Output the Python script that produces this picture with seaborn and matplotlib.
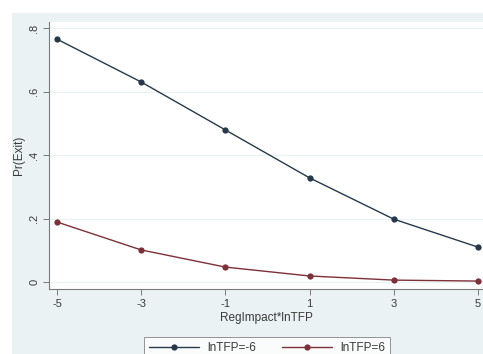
import matplotlib
matplotlib.use("Agg")
import matplotlib.pyplot as plt
import matplotlib.patches as mpatches
import seaborn as sns
import numpy as np
import pandas as pd

# data
reg_impact = [-5, -3, -1, 1, 3, 5]
pr_low = [0.765, 0.630, 0.479, 0.328, 0.198, 0.110]   # lnTFP=-6
pr_high = [0.189, 0.101, 0.047, 0.019, 0.006, 0.003]  # lnTFP=6
series_names = ["lnTFP=-6", "lnTFP=6"]
y_ticks = [0, 0.2, 0.4, 0.6, 0.8]
y_tick_labels = ["0", ".2", ".4", ".6", ".8"]

df = pd.DataFrame({
    "RegImpact*lnTFP": reg_impact * 2,
    "Pr(Exit)": pr_low + pr_high,
    "series": [series_names[0]] * len(reg_impact) + [series_names[1]] * len(reg_impact),
})

sns.set_style("white")
plt.rcParams["font.family"] = ["Liberation Sans", "DejaVu Sans"]

bg = "#eaf2f3"
txt = "#3a3a3a"
fig = plt.figure(figsize=(4.83, 3.54), dpi=100)
fig.patch.set_facecolor("white")
fig.patches.append(mpatches.Rectangle((12 / 483, 0), 471 / 483, 341 / 354,
                                      transform=fig.transFigure, facecolor=bg,
                                      edgecolor="none", zorder=-10))

ax = fig.add_axes([49 / 483, 65 / 354, 434 / 483, 267 / 354])
ax.set_facecolor("white")

palette = {"lnTFP=-6": "#26394a", "lnTFP=6": "#7d3038"}
sns.lineplot(data=df, x="RegImpact*lnTFP", y="Pr(Exit)", hue="series",
             palette=palette, marker="o", markersize=4.5, markeredgewidth=0,
             linewidth=1.0, ax=ax, legend=False)

ax.set_xlim(-5.19, 5.12)
ax.set_ylim(-0.022, 0.819)
ax.set_xticks(reg_impact)
ax.set_xticklabels([str(v) for v in reg_impact])
ax.set_yticks(y_ticks)
ax.set_yticklabels(y_tick_labels, rotation=90, va="center")

for v in y_ticks:
    ax.axhline(v, color=bg, lw=0.9, zorder=0)

for s in ["top", "right"]:
    ax.spines[s].set_visible(False)
for s in ["left", "bottom"]:
    ax.spines[s].set_color("#7a7a7a")
    ax.spines[s].set_linewidth(0.8)

ax.tick_params(axis="both", which="both", length=4, width=0.7, color="#7a7a7a",
               labelsize=8, labelcolor=txt, pad=3, direction="out")
ax.tick_params(axis="x", bottom=True)
ax.tick_params(axis="y", left=True)
ax.set_xlabel("RegImpact*lnTFP", fontsize=8.5, color=txt, labelpad=2)
ax.set_ylabel("Pr(Exit)", fontsize=8.5, color=txt, labelpad=3)

handles = [plt.Line2D([], [], color=palette[n], marker="o", markersize=4.5,
                      markeredgewidth=0, lw=1.0) for n in series_names]
leg = fig.legend(handles, series_names, loc="upper center", ncol=2,
                 bbox_to_anchor=(267 / 483, 1 - 331 / 354), frameon=True,
                 fancybox=False, fontsize=8.5, handlelength=4.2, columnspacing=2.2,
                 borderpad=0.45, handletextpad=0.7)
leg.get_frame().set_edgecolor("#7a7a7a")
leg.get_frame().set_linewidth(0.7)
for t in leg.get_texts():
    t.set_color(txt)

fig.savefig("out.png", dpi=100)
